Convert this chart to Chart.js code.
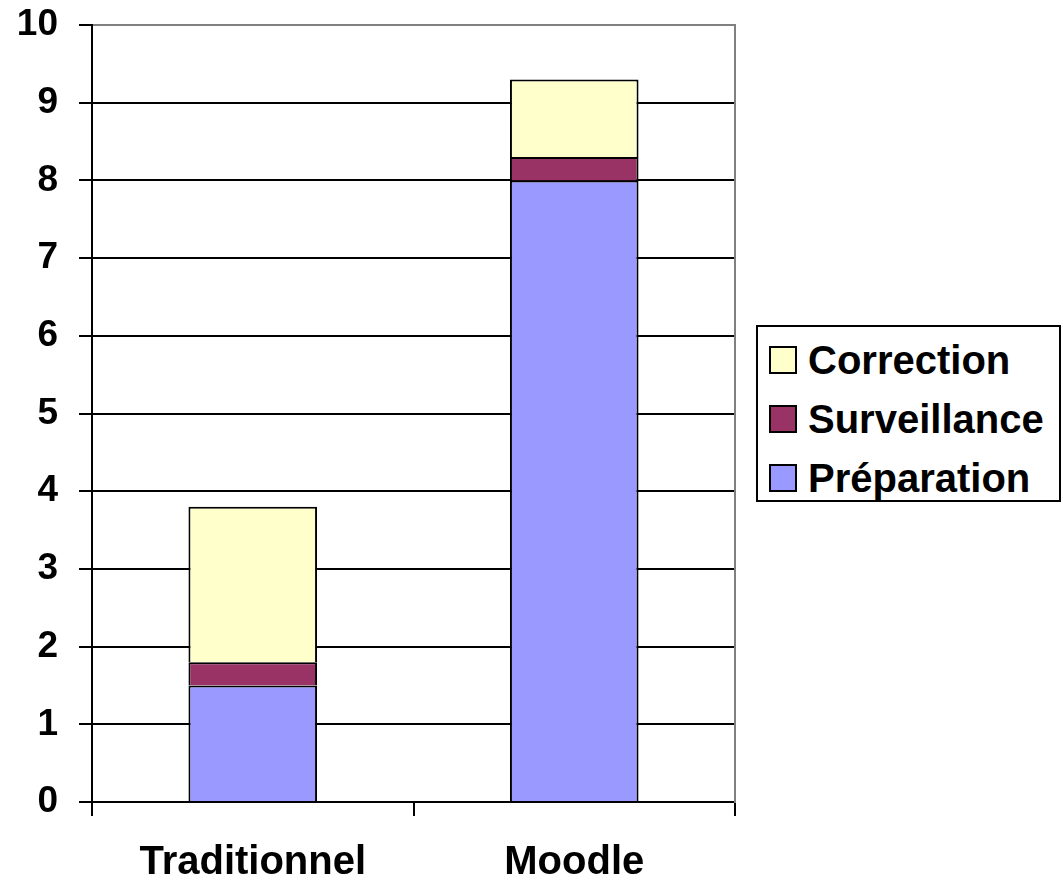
<!DOCTYPE html>
<html>
<head>
<meta charset="utf-8">
<script src="https://cdn.jsdelivr.net/npm/chart.js@4"></script>
<style>
  html, body { margin: 0; padding: 0; background: #fff; }
  #wrap { position: relative; width: 1063px; height: 880px; }
  #legend {
    position: absolute; left: 756px; top: 325px; width: 301px; height: 173px;
    border: 2px solid #000; background: #fff; box-sizing: content-box;
    font-family: "Liberation Sans", Arial, sans-serif; font-weight: bold; font-size: 40px;
  }
  #legend .row { position: absolute; left: 11px; height: 44px; display: flex; align-items: center; white-space: nowrap; }
  #legend .sw { width: 24px; height: 24px; border: 2px solid #000; margin-right: 11px; flex: none; }
</style>
</head>
<body>
<div id="wrap">
  <canvas id="c" width="1063" height="880"></canvas>
  <div id="legend"></div>
</div>
<script>
    "use strict";

    const FONT = "'Liberation Sans', Arial, sans-serif";

    const categories = ["Traditionnel", "Moodle"];
    const preparation = [1.5, 8.0];
    const surveillance = [0.3, 0.3];
    const correction = [2.0, 1.0];
    const yTicks = [0, 1, 2, 3, 4, 5, 6, 7, 8, 9, 10];

    const COLORS = {
        prep: "#9999FF",
        surv: "#993366",
        corr: "#FFFFCC"
    };

    function ds(label, data, color) {
        return {
            label, data, backgroundColor: color, borderColor: "#000", borderWidth: 2,
            barPercentage: 0.4, categoryPercentage: 1.0
        };
    }

    const datasets = [
        ds("Préparation", preparation, COLORS.prep),
        ds("Surveillance", surveillance, COLORS.surv),
        ds("Correction", correction, COLORS.corr)
    ];

    const chart = new Chart(document.getElementById("c").getContext("2d"), {
        type: "bar",
        data: { labels: categories, datasets },
        options: {
            responsive: false, animation: false,
            layout: { padding: { top: 25, right: 328, left: 0, bottom: 0 } },
            plugins: { legend: { display: false }, tooltip: { enabled: false } },
            scales: {
                x: {
                    stacked: true,
                    grid: { drawOnChartArea: false, offset: true, tickLength: 14, color: "#000", lineWidth: 2 },
                    border: { color: "#000", width: 2 },
                    ticks: { color: "#000", font: { family: FONT, size: 40, weight: "bold" }, padding: 23 },
                    afterFit: s => { s.height = 78; s.paddingLeft = 0; s.paddingRight = 0; }
                },
                y: {
                    stacked: true, min: 0, max: 10,
                    afterBuildTicks: s => { s.ticks = yTicks.map(v => ({ value: v })); },
                    grid: {
                        color: c => (c.tick && c.tick.value === 10 ? "#808080" : "#000"),
                        tickColor: "#000", lineWidth: 2, tickLength: 13
                    },
                    border: { color: "#000", width: 2 },
                    ticks: { color: "#000", font: { family: FONT, size: 37, weight: "bold" }, padding: 21 },
                    afterFit: s => { s.width = 92; s.paddingTop = 0; s.paddingBottom = 0; }
                },
                yRight: {
                    position: "right", min: 0, max: 10,
                    grid: { display: false },
                    ticks: { display: false },
                    border: { color: "#808080", width: 2 },
                    afterFit: s => { s.width = 0; s.paddingTop = 0; s.paddingBottom = 0; }
                }
            }
        }
    });

    /* ── HTML legend, reversed like the original ── */
    const legend = document.getElementById("legend");
    datasets.slice().reverse().forEach((d, i) => {
        const row = document.createElement("div");
        row.className = "row";
        row.style.top = (11 + i * 59) + "px";
        row.innerHTML = `<span class="sw" style="background:${d.backgroundColor}"></span><span>${d.label}</span>`;
        legend.appendChild(row);
    });
</script>
</body>
</html>
